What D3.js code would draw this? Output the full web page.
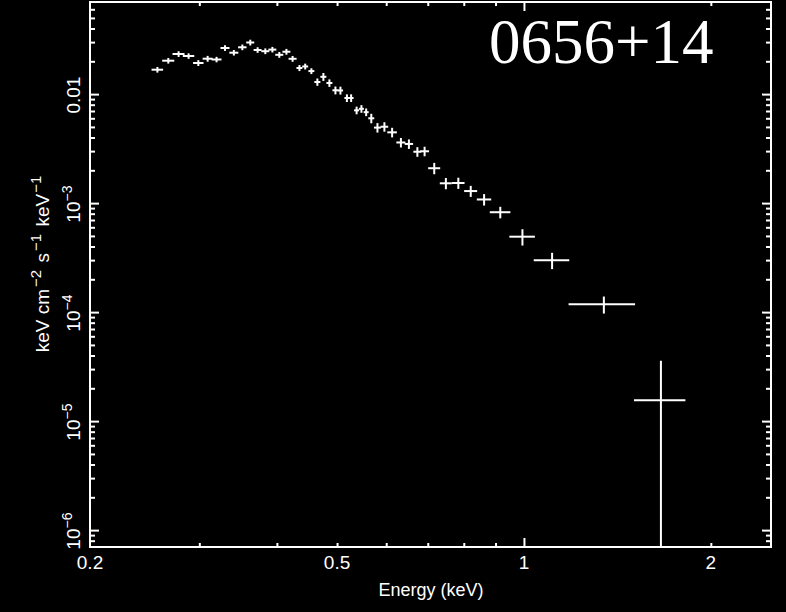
<!DOCTYPE html>
<html>
<head>
<meta charset="utf-8">
<script src="https://cdn.jsdelivr.net/npm/d3@7"></script>
<style>
  html, body { margin: 0; padding: 0; background: #000; }
  svg { display: block; }
  text { fill: #fff; font-family: "Liberation Sans", Arial, sans-serif; }
  text.title { font-family: "Liberation Serif", "Times New Roman", serif; }
</style>
</head>
<body>
<svg id="chart" width="786" height="612"></svg>
<script>
// Unfolded X-ray spectrum of PSR 0656+14: bin centre energy (keV), bin half width (keV),
// flux density (keV cm^-2 s^-1 keV^-1) and its 1-sigma error.
const energy = [
  0.2568, 0.2674, 0.2778, 0.2883, 0.2989, 0.3094, 0.3198, 0.3300, 0.3410, 0.3519,
  0.3624, 0.3724, 0.3832, 0.3934, 0.4036, 0.4144, 0.4240, 0.4349, 0.4443, 0.4546,
  0.4648, 0.4753, 0.4860, 0.4970, 0.5063, 0.5186, 0.5268, 0.5376, 0.5473, 0.5570,
  0.5677, 0.5808, 0.5960, 0.6133, 0.6336, 0.6527, 0.6735, 0.6918, 0.7170, 0.7486,
  0.7840, 0.8209, 0.8626, 0.9160, 0.9944, 1.110, 1.345, 1.662
];
const energyHalfWidth = [
  0.0055, 0.0060, 0.0062, 0.0061, 0.0058, 0.0057, 0.0059, 0.0055, 0.0057, 0.0055,
  0.0054, 0.0055, 0.0057, 0.0058, 0.0060, 0.0061, 0.0063, 0.0048, 0.0049, 0.0050,
  0.0052, 0.0053, 0.0054, 0.0055, 0.0050, 0.0048, 0.0048, 0.0050, 0.0050, 0.0052,
  0.0063, 0.0075, 0.0084, 0.0109, 0.0106, 0.0102, 0.0100, 0.0115, 0.0160, 0.0167,
  0.0183, 0.0198, 0.0230, 0.0350, 0.0470, 0.0730, 0.1650, 0.1580
];
const flux = [
  0.01675, 0.02026, 0.02333, 0.02237, 0.01930, 0.02113, 0.02078, 0.02649, 0.02399, 0.02689,
  0.02975, 0.02540, 0.02476, 0.02561, 0.02294, 0.02449, 0.02109, 0.01737, 0.01793, 0.01627,
  0.01292, 0.01442, 0.01265, 0.01084, 0.01080, 0.00921, 0.00921, 0.00710, 0.00733, 0.00683,
  0.00600, 0.00493, 0.00502, 0.00446, 0.00360, 0.00349, 0.00296, 0.00299, 0.00209, 0.00152,
  0.00153, 0.00129, 0.00108, 0.000825, 0.000492, 0.000299, 0.000118, 0.0000155
];
const fluxError = [
  0.0010, 0.0012, 0.0014, 0.0013, 0.0012, 0.0013, 0.0012, 0.0016, 0.0014, 0.0016,
  0.0018, 0.0015, 0.0015, 0.0015, 0.0014, 0.0015, 0.0013, 0.0011, 0.0011, 0.0010,
  0.0010, 0.0012, 0.0010, 0.0009, 0.0009, 0.00074, 0.00074, 0.00057, 0.00059, 0.00055,
  0.00060, 0.00049, 0.00050, 0.00045, 0.00036, 0.00035, 0.00030, 0.00030, 0.00025, 0.00018,
  0.00018, 0.00015, 0.00013, 0.00010, 0.000084, 0.000051, 0.000021, 0.0000203
];

// Axis ticks and labels
const xDomain = [0.2, 2.5];
const yDomain = [7e-7, 0.07];
const xMajorTicks = [1];
const xMinorTicks = [0.3, 0.4, 0.5, 0.6, 0.7, 0.8, 0.9, 2];
const xLabels = [0.2, 0.5, 1, 2];
const yMajorTicks = [1e-6, 1e-5, 1e-4, 1e-3, 1e-2];
const yMinorTicks = [8e-7, 9e-7,
  2e-6, 3e-6, 4e-6, 5e-6, 6e-6, 7e-6, 8e-6, 9e-6,
  2e-5, 3e-5, 4e-5, 5e-5, 6e-5, 7e-5, 8e-5, 9e-5,
  2e-4, 3e-4, 4e-4, 5e-4, 6e-4, 7e-4, 8e-4, 9e-4,
  2e-3, 3e-3, 4e-3, 5e-3, 6e-3, 7e-3, 8e-3, 9e-3,
  2e-2, 3e-2, 4e-2, 5e-2, 6e-2];
const yLabels = [
  { v: 1e-2, base: "0.01", exp: null },
  { v: 1e-3, base: "10", exp: "\u22123" },
  { v: 1e-4, base: "10", exp: "\u22124" },
  { v: 1e-5, base: "10", exp: "\u22125" },
  { v: 1e-6, base: "10", exp: "\u22126" }
];
const title = "0656+14";
const xTitle = "Energy (keV)";

const plot = { left: 90, right: 771, top: 2, bottom: 547 };

const svg = d3.select("#chart");
svg.append("rect").attr("width", 786).attr("height", 612).attr("fill", "#000");

const x = d3.scaleLog().domain(xDomain).range([plot.left, plot.right]);
const y = d3.scaleLog().domain(yDomain).range([plot.bottom, plot.top]);

const axisColor = "#fff";
function styleAxis(g) {
  g.select(".domain").remove();
  g.selectAll(".tick line").attr("stroke", axisColor).attr("stroke-width", 2);
  g.selectAll(".tick text").remove();
}

// Inward ticks on all four sides: long ticks at decades, short ones between
const major = 9, minor = 5;
[["bottom", plot.bottom, d3.axisBottom], ["top", plot.top, d3.axisTop]].forEach(([side, pos, mk]) => {
  const dir = side === "bottom" ? -1 : 1;
  svg.append("g").attr("transform", `translate(0,${pos})`)
    .call(mk(x).tickValues(xMajorTicks).tickFormat(""))
    .call(g => g.selectAll(".tick line").attr("y2", dir * major))
    .call(styleAxis);
  svg.append("g").attr("transform", `translate(0,${pos})`)
    .call(mk(x).tickValues(xMinorTicks).tickFormat(""))
    .call(g => g.selectAll(".tick line").attr("y2", dir * (minor - 1)))
    .call(styleAxis);
});
[["left", plot.left, d3.axisLeft], ["right", plot.right, d3.axisRight]].forEach(([side, pos, mk]) => {
  const dir = side === "left" ? 1 : -1;
  svg.append("g").attr("transform", `translate(${pos},0)`)
    .call(mk(y).tickValues(yMajorTicks).tickFormat(""))
    .call(g => g.selectAll(".tick line").attr("x2", dir * major))
    .call(styleAxis);
  svg.append("g").attr("transform", `translate(${pos},0)`)
    .call(mk(y).tickValues(yMinorTicks).tickFormat(""))
    .call(g => g.selectAll(".tick line").attr("x2", dir * minor))
    .call(styleAxis);
});

// Frame
svg.append("rect")
  .attr("x", plot.left).attr("y", plot.top)
  .attr("width", plot.right - plot.left).attr("height", plot.bottom - plot.top)
  .attr("fill", "none").attr("stroke", axisColor).attr("stroke-width", 2);

// X tick labels
svg.append("g").selectAll("text").data(xLabels).join("text")
  .attr("x", d => x(d)).attr("y", 569)
  .attr("text-anchor", "middle").attr("font-size", 19)
  .text(d => d3.format("")(d));

svg.append("text").attr("x", 431).attr("y", 596)
  .attr("text-anchor", "middle").attr("font-size", 18).text(xTitle);

// Y tick labels (rotated, with exponents)
const yl = svg.append("g").selectAll("text").data(yLabels).join("text")
  .attr("transform", d => `translate(80,${y(d.v) + 1}) rotate(-90)`)
  .attr("text-anchor", "middle").attr("font-size", 19);
yl.append("tspan").text(d => d.base);
yl.filter(d => d.exp).append("tspan").attr("dy", -8).attr("font-size", 14).text(d => d.exp);

// Y axis title
const yt = svg.append("text")
  .attr("transform", `translate(49,264) rotate(-90)`)
  .attr("text-anchor", "middle").attr("font-size", 19);
yt.append("tspan").text("keV cm");
yt.append("tspan").attr("dx", 2).attr("dy", -8).attr("font-size", 15).text("\u22122");
yt.append("tspan").attr("dx", 2).attr("dy", 8).text(" s");
yt.append("tspan").attr("dx", 2).attr("dy", -8).attr("font-size", 15).text("\u22121");
yt.append("tspan").attr("dx", 2).attr("dy", 8).text(" keV");
yt.append("tspan").attr("dx", 1).attr("dy", -8).attr("font-size", 15).text("\u22121");

// Title
svg.append("text").attr("class", "title").attr("x", 489).attr("y", 63)
  .attr("font-size", 63).text(title);

// Data crosses: energy bin width and flux error bar
svg.append("clipPath").attr("id", "plot-clip").append("rect")
  .attr("x", plot.left).attr("y", plot.top)
  .attr("width", plot.right - plot.left).attr("height", plot.bottom - plot.top);

const data = energy.map((e, i) => ({ e, de: energyHalfWidth[i], f: flux[i], df: fluxError[i] }));
const pts = svg.append("g").attr("clip-path", "url(#plot-clip)")
  .attr("stroke", "#fff").attr("stroke-width", 2);
pts.selectAll("line.h").data(data).join("line").attr("class", "h")
  .attr("x1", d => x(d.e - d.de)).attr("x2", d => x(d.e + d.de))
  .attr("y1", d => y(d.f)).attr("y2", d => y(d.f));
pts.selectAll("line.v").data(data).join("line").attr("class", "v")
  .attr("x1", d => x(d.e)).attr("x2", d => x(d.e))
  .attr("y1", d => y(d.f + d.df))
  .attr("y2", d => d.f - d.df > 0 ? y(d.f - d.df) : plot.bottom);
</script>
</body>
</html>
